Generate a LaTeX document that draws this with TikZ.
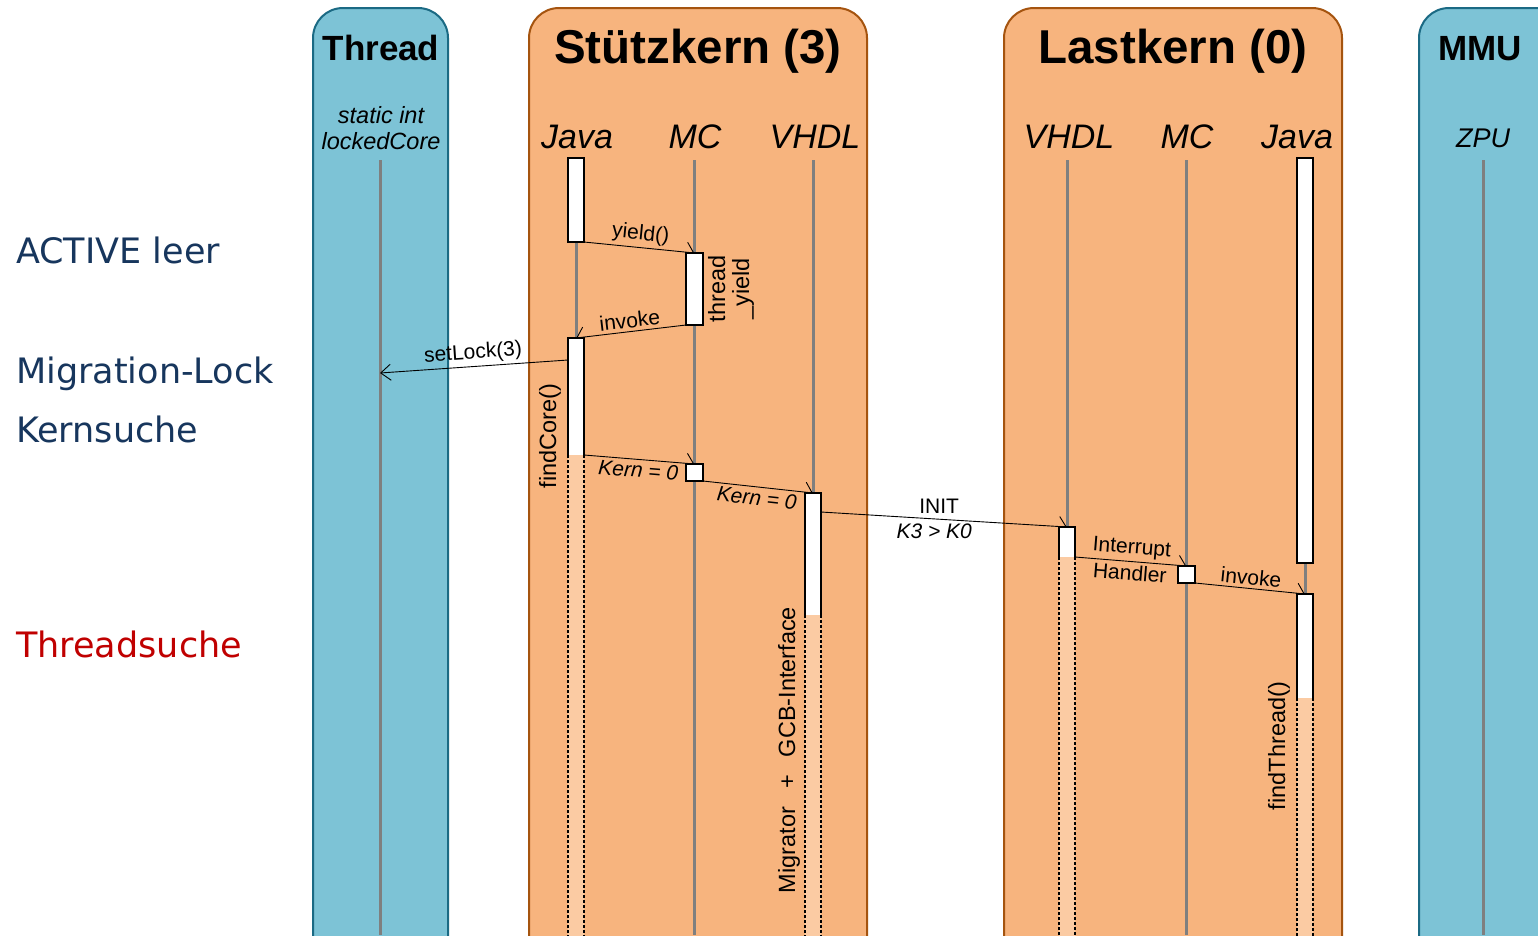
\documentclass[tikz,border=0pt]{standalone}
\usepackage{fontspec}
\setmainfont{Liberation Sans}
\newfontfamily\verd{DejaVu Sans}
\usetikzlibrary{arrows.meta}
\definecolor{laneblue}{HTML}{7DC3D6}
\definecolor{laneblueedge}{HTML}{1B6A84}
\definecolor{laneorange}{HTML}{F7B47E}
\definecolor{laneorangeedge}{HTML}{A5540F}
\definecolor{actlight}{HTML}{FBCBA3}
\definecolor{lifegray}{HTML}{7F7F7F}
\definecolor{navy}{HTML}{17365D}
\definecolor{darkred}{HTML}{C00000}
\newcommand\actcont[1]{%
  \fill[actlight] (#1.south west) rectangle ([yshift=-520pt]#1.south east);
  \draw[dotside] (#1.south west) -- ([yshift=-520pt]#1.south west)
                 (#1.south east) -- ([yshift=-520pt]#1.south east);
  \draw[actline] (#1.south west) -- (#1.north west) -- (#1.north east) -- (#1.south east);}
\begin{document}
\begin{tikzpicture}[x=1pt,y=-1pt,
  bluelane/.style={rounded corners=30pt, line width=2pt, fill=laneblue, draw=laneblueedge},
  orangelane/.style={rounded corners=30pt, line width=2pt, fill=laneorange, draw=laneorangeedge},
  title/.style={font=\bfseries\fontsize{35}{40}\selectfont, anchor=base, inner sep=0pt},
  bigtitle/.style={font=\bfseries\fontsize{47.5}{52}\selectfont, anchor=base, inner sep=0pt},
  head/.style={font=\itshape\fontsize{34}{40}\selectfont, anchor=base, inner sep=0pt},
  life/.style={draw=lifegray, line width=3pt},
  act/.style={rectangle, draw=black, fill=white, line width=2.4pt, minimum width=16pt, inner sep=0pt, outer sep=0pt},
  actw/.style={rectangle, fill=white, minimum width=16pt, inner sep=0pt, outer sep=0pt},
  actline/.style={draw=black, line width=2.4pt, line join=miter},
  dotside/.style={draw=black, line width=2pt, dash pattern=on 3pt off 2pt},
  msgl/.style={draw=black, line width=0.9pt, -{Straight Barb[left, length=7pt, width=20pt]}},
  msgr/.style={draw=black, line width=0.9pt, -{Straight Barb[right, length=7pt, width=20pt]}},
  msgo/.style={draw=black, line width=0.9pt, -{Straight Barb[length=10pt, width=16pt]}},
  lbl/.style={font=\fontsize{21}{25}\selectfont, inner sep=3pt},
  ilbl/.style={font=\itshape\fontsize{21}{25}\selectfont, inner sep=3pt},
  vlbl/.style={font=\fontsize{23.5}{24}\selectfont, rotate=90, inner sep=0pt, align=center},
  side/.style={font=\verd\fontsize{35}{40}\selectfont, anchor=base west, inner sep=0pt, text=navy}
]
\clip (0,0) rectangle (1538,935);
\fill[white] (0,0) rectangle (1538,935);

% lanes
\draw[bluelane] (313,990) -- (313,8) -- (448,8) -- (448,990);
\draw[orangelane] (529,990) -- (529,8) -- (867,8) -- (867,990);
\draw[orangelane] (1004,990) -- (1004,8) -- (1342,8) -- (1342,990);
\draw[bluelane] (1419,990) -- (1419,8) -- (1600,8) -- (1600,990);

% titles
\node[title] (tThread) at (381,60) {Thread};
\node[bigtitle] (tStuetz) at (698,63) {Stützkern (3)};
\node[bigtitle] (tLast) at (1173,63) {Lastkern (0)};
\node[title] (tMMU) at (1480,60) {MMU};

% lifeline heads
\node[font=\itshape\fontsize{23.5}{26}\selectfont, align=center, anchor=base, inner sep=0pt] (hThread) at (381,149) {static int\\lockedCore};
\node[head] (hJavaS) at (577,148) {Java};
\node[head] (hMCS) at (695,148) {MC};
\node[head] (hVHDLS) at (815,148) {VHDL};
\node[head] (hVHDLL) at (1069,148) {VHDL};
\node[head] (hMCL) at (1187,148) {MC};
\node[head] (hJavaL) at (1297,148) {Java};
\node[font=\itshape\fontsize{27}{30}\selectfont, anchor=base, inner sep=0pt] (hZPU) at (1483,147) {ZPU};

% lifelines
\draw[life] (380,160) -- (380,935);
\draw[life] (576,158) -- (576,935);
\draw[life] (694,160) -- (694,935);
\draw[life] (813,160) -- (813,935);
\draw[life] (1067,160) -- (1067,935);
\draw[life] (1186,160) -- (1186,935);
\draw[life] (1305,158) -- (1305,935);
\draw[life] (1483,160) -- (1483,935);

% activation boxes
\node[act, minimum height=84pt] (aJS1) at (576,200) {};
\node[act, minimum height=72pt, minimum width=17pt] (aMS1) at (694.5,289) {};
\node[actw, minimum height=117pt] (aJS2) at (576,396.5) {};
\actcont{aJS2}
\node[act, minimum height=17pt, minimum width=17pt] (aMS2) at (694.5,472.5) {};
\node[actw, minimum height=122pt] (aVS) at (813,554) {};
\actcont{aVS}
\node[actw, minimum height=30pt] (aVL) at (1067,542) {};
\actcont{aVL}
\node[act, minimum height=17pt, minimum width=17pt] (aML) at (1186.5,574.5) {};
\node[act, minimum height=405pt] (aJL1) at (1305,360.5) {};
\node[actw, minimum height=104pt] (aJL2) at (1305,646) {};
\actcont{aJL2}

% connector end points
\coordinate (slStart) at (568,360);
\coordinate (slEnd) at (380,373);
\coordinate (initStart) at (821,512);

% messages
\draw[msgl] (aJS1.south east) -- node[lbl, sloped, above] (lYield) {yield()} (aMS1.north);
\draw[msgr] (aMS1.south west) -- node[lbl, sloped, above] (lInv1) {invoke} (aJS2.north);
\draw[msgo] (slStart) -- node[lbl, sloped, above, pos=0.5] (lSet) {setLock(3)} (slEnd);
\draw[msgl] (aJS2.south east) -- node[ilbl, sloped, below] (lK1) {Kern = 0} (aMS2.north);
\draw[msgl] (aMS2.south east) -- node[ilbl, sloped, below] (lK2) {Kern = 0} (aVS.north);
\draw[msgl] (initStart) -- node[lbl, above=2pt, pos=0.48] (lInit) {INIT} node[ilbl, below=1pt, pos=0.46] (lK3) {K3 > K0} (aVL.north);
\draw[msgl] (aVL.south east) -- node[lbl, sloped, above] (lInt) {Interrupt} node[lbl, sloped, below] (lHand) {Handler} (aML.north);
\draw[msgl] (aML.south east) -- node[lbl, sloped, above] (lInv2) {invoke} (aJL2.north);

% vertical labels
\node[vlbl] (vThread) at (731,289) {thread\\\_yield};
\node[vlbl] (vFind) at (550,436) {findCore()};
\node[vlbl] (vMig) at (789,750) {Migrator\hspace{18pt}+\hspace{18pt}GCB-Interface};
\node[vlbl] (vFindT) at (1279,746) {findThread()};

% side labels
\node[side] (sActive) at (16,263) {ACTIVE leer};
\node[side] (sMig) at (16,383) {Migration-Lock};
\node[side] (sKern) at (16,442) {Kernsuche};
\node[side, text=darkred] (sThread) at (16,657) {Threadsuche};
\end{tikzpicture}
\end{document}
